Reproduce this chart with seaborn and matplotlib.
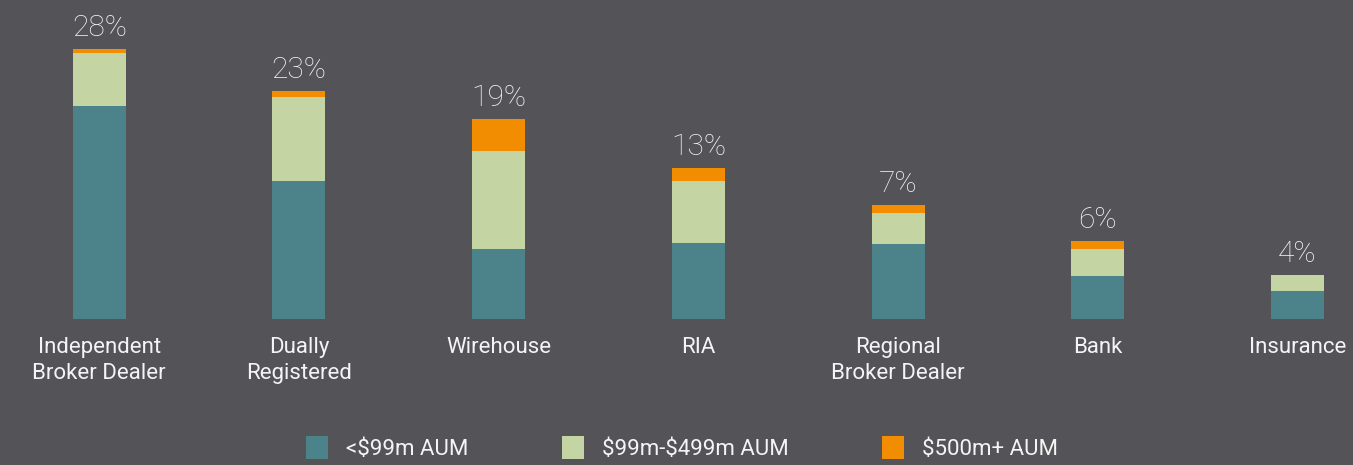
import numpy as np
import pandas as pd
import seaborn as sns
import matplotlib.pyplot as plt
from matplotlib.patches import Patch

# Data
channels = ["Independent\nBroker Dealer", "Dually\nRegistered", "Wirehouse", "RIA",
            "Regional\nBroker Dealer", "Bank", "Insurance"]
share_labels = [28, 23, 19, 13, 7, 6, 4]
small_aum = [22.0, 14.26, 7.23, 7.85, 7.75, 4.44, 2.89]
mid_aum = [5.48, 8.68, 10.12, 6.41, 3.20, 2.79, 1.65]
large_aum = [0.41, 0.62, 3.31, 1.34, 0.83, 0.83, 0.0]
series_names = ["<\\$99m AUM", "\\$99m-\\$499m AUM", "\\$500m+ AUM"]

bg = "#545358"
teal = "#4c838a"
green = "#c4d4a3"
orange = "#f28c00"
txt = "#f4f4f4"

sns.set_style("white")
plt.rcParams["font.family"] = ["Roboto", "DejaVu Sans"]

df = pd.DataFrame({"channel": channels, "small": small_aum, "mid": mid_aum, "large": large_aum})
df["small_mid"] = df["small"] + df["mid"]
df["total"] = df["small_mid"] + df["large"]

fig = plt.figure(figsize=(13.53, 4.65), dpi=100, facecolor=bg)
ax = fig.add_axes([0, 146 / 465, 1, 319 / 465])
ax.set_facecolor(bg)

# stacked bars drawn back to front
bw = 0.265
sns.barplot(data=df, x="channel", y="total", color=orange, saturation=1, width=bw, ax=ax, linewidth=0)
sns.barplot(data=df, x="channel", y="small_mid", color=green, saturation=1, width=bw, ax=ax, linewidth=0)
sns.barplot(data=df, x="channel", y="small", color=teal, saturation=1, width=bw, ax=ax, linewidth=0)

for i, (tot, lab) in enumerate(zip(df["total"], share_labels)):
    ax.text(i, tot + 1.35, f"{lab}%", ha="center", va="baseline", color=txt,
            fontsize=21.5, fontweight="light")

ax.set_xlim(-0.497, 6.278)
ax.set_ylim(0, 32.96)
ax.set_xlabel("")
ax.set_ylabel("")
ax.set_yticks([])
ax.tick_params(axis="x", length=0, pad=13, labelsize=16, labelcolor=txt)
for lbl in ax.get_xticklabels():
    lbl.set_linespacing(1.3)
sns.despine(ax=ax, left=True, bottom=True)

handles = [Patch(facecolor=c, edgecolor="none") for c in (teal, green, orange)]
leg = fig.legend(handles, series_names, loc="center", bbox_to_anchor=(0.504, 0.037),
                 ncol=3, frameon=False, fontsize=16, handlelength=1.0, handleheight=1.2,
                 handletextpad=0.8, columnspacing=4.2)
for t in leg.get_texts():
    t.set_color(txt)

fig.savefig("out.png", dpi=100, facecolor=bg)
